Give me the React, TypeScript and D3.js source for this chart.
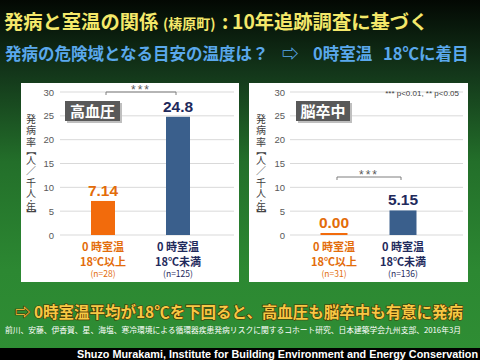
import React from "react";
import * as d3 from "d3";

const categoriesLine1 = ["0 時室温", "0 時室温"];
const categoriesLine2 = ["18℃以上", "18℃未満"];
const hypertensionN = [28, 125];
const strokeN = [31, 136];
const hypertensionRates = [7.14, 24.8];
const strokeRates = [0.0, 5.15];
const yTicks = [0, 5, 10, 15, 20, 25, 30];
const axisTitleChars = ["発", "病", "率", "【", "人", "／", "千", "人", "・", "年", "】"];
const significance = ["***", "***"];

// vertical layout offsets (centres, px from top of the title) for the stacked axis title
const axisTitleOffsets = [0, 11.5, 23, 32.5, 41, 52.5, 64, 74, 81.5, 88.5, 96];
const rotatedChars = ["【", "】"];

const W = 480;
const H = 360;
const JP = "'Noto Sans CJK JP', 'Noto Sans', sans-serif";
const LAT = "'Liberation Sans', Arial, sans-serif";
const ORANGE = "#F26B0C";
const ORANGE_TXT = "#E36C0A";
const BLUE = "#3A5F8C";
const NAVY = "#1F2A5C";

const yScale = d3.scaleLinear().domain([0, 30]).range([235, 92]);

type PanelDef = {
  px: number; pw: number;
  title: string; titleBox: [number, number, number, number];
  rates: number[]; ns: number[];
  band: [number, number]; padInner: number;
  grid: [number, number]; tickX: number; axisTitleX: number;
  sigY: number; sig: string;
  footnote?: boolean;
};

const panels: PanelDef[] = [
  {
    px: 21, pw: 218, title: "高血圧", titleBox: [65, 101, 55, 20],
    rates: hypertensionRates, ns: hypertensionN,
    band: [53.5, 227.5], padInner: 0.68,
    grid: [60, 234], tickX: 54, axisTitleX: 31,
    sigY: 92, sig: significance[0],
  },
  {
    px: 249, pw: 219, title: "脳卒中", titleBox: [296, 101, 54, 20],
    rates: strokeRates, ns: strokeN,
    band: [286, 451], padInner: 0.609,
    grid: [290, 463], tickX: 285, axisTitleX: 261,
    sigY: 177, sig: significance[1], footnote: true,
  },
];

function Panel({ p }: { p: PanelDef }) {
  const idx = [0, 1];
  const x = d3.scaleBand<number>().domain(idx).range(p.band).paddingInner(p.padInner).paddingOuter(0.5);
  const bw = x.bandwidth();
  const cx = (i: number) => (x(i) as number) + bw / 2;
  const titleChars = axisTitleChars.map((c, i) => {
    const cy = 118 + axisTitleOffsets[i];
    const rot = rotatedChars.includes(c);
    return (
      <text key={i} x={p.axisTitleX} y={cy} textAnchor="middle" dominantBaseline="central"
        transform={rot ? `rotate(90 ${p.axisTitleX} ${cy})` : undefined}
        fontFamily={JP} fontSize={c === "・" ? 7 : 10} fill="#404040">
        {c}
      </text>
    );
  });
  const sx1 = cx(0) + 3;
  const sx2 = cx(1) - 2;
  return (
    <g>
      <rect x={p.px} y={83} width={p.pw} height={199} fill="#ffffff" />
      {yTicks.map((t) => (
        <g key={t}>
          <line x1={p.grid[0]} x2={p.grid[1]} y1={yScale(t)} y2={yScale(t)} stroke="#D9D9D9" strokeWidth={1} />
          <text x={p.tickX} y={yScale(t) + 3.5} textAnchor="end" fontFamily={LAT} fontSize={9.5} fill="#595959">{t}</text>
        </g>
      ))}
      {titleChars}
      {p.rates.map((v, i) => {
        const h = Math.max(yScale(0) - yScale(v), 2);
        const top = yScale(0) - h;
        return (
          <g key={i}>
            <rect x={x(i)} y={top} width={bw} height={h} fill={i === 0 ? ORANGE : BLUE} />
            <text x={cx(i)} y={top - 5} textAnchor="middle" fontFamily={LAT} fontWeight="bold" fontSize={15.5} fill={i === 0 ? ORANGE_TXT : NAVY}>
              {v.toFixed(v >= 10 ? 1 : 2)}
            </text>
            <text x={cx(i)} y={251} textAnchor="middle" fontFamily={JP} fontWeight="bold" fontSize={11} fill={i === 0 ? ORANGE_TXT : NAVY}>
              {categoriesLine1[i]}
            </text>
            <text x={cx(i)} y={266} textAnchor="middle" fontFamily={JP} fontWeight="bold" fontSize={11} fill={i === 0 ? ORANGE_TXT : NAVY}>
              {categoriesLine2[i]}
            </text>
            <text x={cx(i)} y={276.5} textAnchor="middle" fontFamily={JP} fontSize={8.5} fill={i === 0 ? ORANGE_TXT : NAVY}>
              {`(n=${p.ns[i]})`}
            </text>
          </g>
        );
      })}
      <path d={`M${sx1},${p.sigY + 3}V${p.sigY}H${sx2}V${p.sigY + 3}`} fill="none" stroke="#7F7F7F" strokeWidth={1} />
      <text x={(sx1 + sx2) / 2} y={p.sigY + 1.5} textAnchor="middle" fontFamily={LAT} fontSize={12} fill="#595959" letterSpacing={2}>
        {p.sig}
      </text>
      <rect x={p.titleBox[0] + 2} y={p.titleBox[1] + 2} width={p.titleBox[2]} height={p.titleBox[3]} fill="#BFBFBF" />
      <rect x={p.titleBox[0]} y={p.titleBox[1]} width={p.titleBox[2]} height={p.titleBox[3]} fill="#595959" />
      <text x={p.titleBox[0] + p.titleBox[2] / 2} y={p.titleBox[1] + 15.5} textAnchor="middle" fontFamily={JP} fontWeight="bold" fontSize={15} fill="#ffffff">
        {p.title}
      </text>
      {p.footnote && (
        <text x={459} y={96} textAnchor="end" fontFamily={LAT} fontSize={8} fill="#404040">*** p&lt;0.01, ** p&lt;0.05</text>
      )}
    </g>
  );
}

export default function App() {
  return (
    <svg width={W} height={H} style={{ position: "absolute", left: 0, top: 0 }} xmlns="http://www.w3.org/2000/svg">
      <defs>
        <linearGradient id="bg" x1="0" y1="0" x2="0" y2="1">
          <stop offset="0" stopColor="#030803" />
          <stop offset="0.2" stopColor="#13361a" />
          <stop offset="0.45" stopColor="#236f2a" />
          <stop offset="0.75" stopColor="#2c8832" />
          <stop offset="1" stopColor="#2f8e34" />
        </linearGradient>
      </defs>
      <rect x={0} y={0} width={W} height={H} fill="url(#bg)" />
      <text y={28.5} fontFamily={JP} fontWeight="bold" fill="#F4E86A">
        <tspan x={4} fontSize={19.3}>発病と室温の関係</tspan>
        <tspan x={163} fontSize={14}>(梼原町)</tspan>
        <tspan x={222} fontSize={19.3}>:</tspan>
        <tspan x={232} fontSize={19.3}>10年追跡調査に基づく</tspan>
      </text>
      <text y={59.5} fontFamily={JP} fontWeight="bold" fill="#5AA8EC" fontSize={16.5}>
        <tspan x={5}>発病の危険域となる目安の温度は？</tspan>
        <tspan x={282}>⇨</tspan>
        <tspan x={313}>0時室温</tspan>
        <tspan x={383}>18℃に着目</tspan>
      </text>
      {panels.map((p, i) => <Panel key={i} p={p} />)}
      <text x={15} y={318} fontFamily={JP} fontWeight="bold" fontSize={15.5} fill="#F7C844" stroke="#4a3000" strokeWidth={1.2} paintOrder="stroke" textLength={448} lengthAdjust="spacingAndGlyphs">
        ⇨ 0時室温平均が18℃を下回ると、高血圧も脳卒中も有意に発病
      </text>
      <text x={5} y={333} fontFamily={JP} fontSize={8} fill="#ffffff" textLength={456} lengthAdjust="spacingAndGlyphs">
        前川、安藤、伊香賀、星、海塩、寒冷環境による循環器疾患発病リスクに関するコホート研究、日本建築学会九州支部、2016年3月
      </text>
      <rect x={0} y={348} width={W} height={12} fill="#000000" />
      <text x={77} y={357.5} fontFamily={LAT} fontWeight="bold" fontSize={10.5} fill="#ffffff" textLength={401} lengthAdjust="spacingAndGlyphs">
        Shuzo Murakami,  Institute  for Building Environment and Energy Conservation
      </text>
    </svg>
  );
}
